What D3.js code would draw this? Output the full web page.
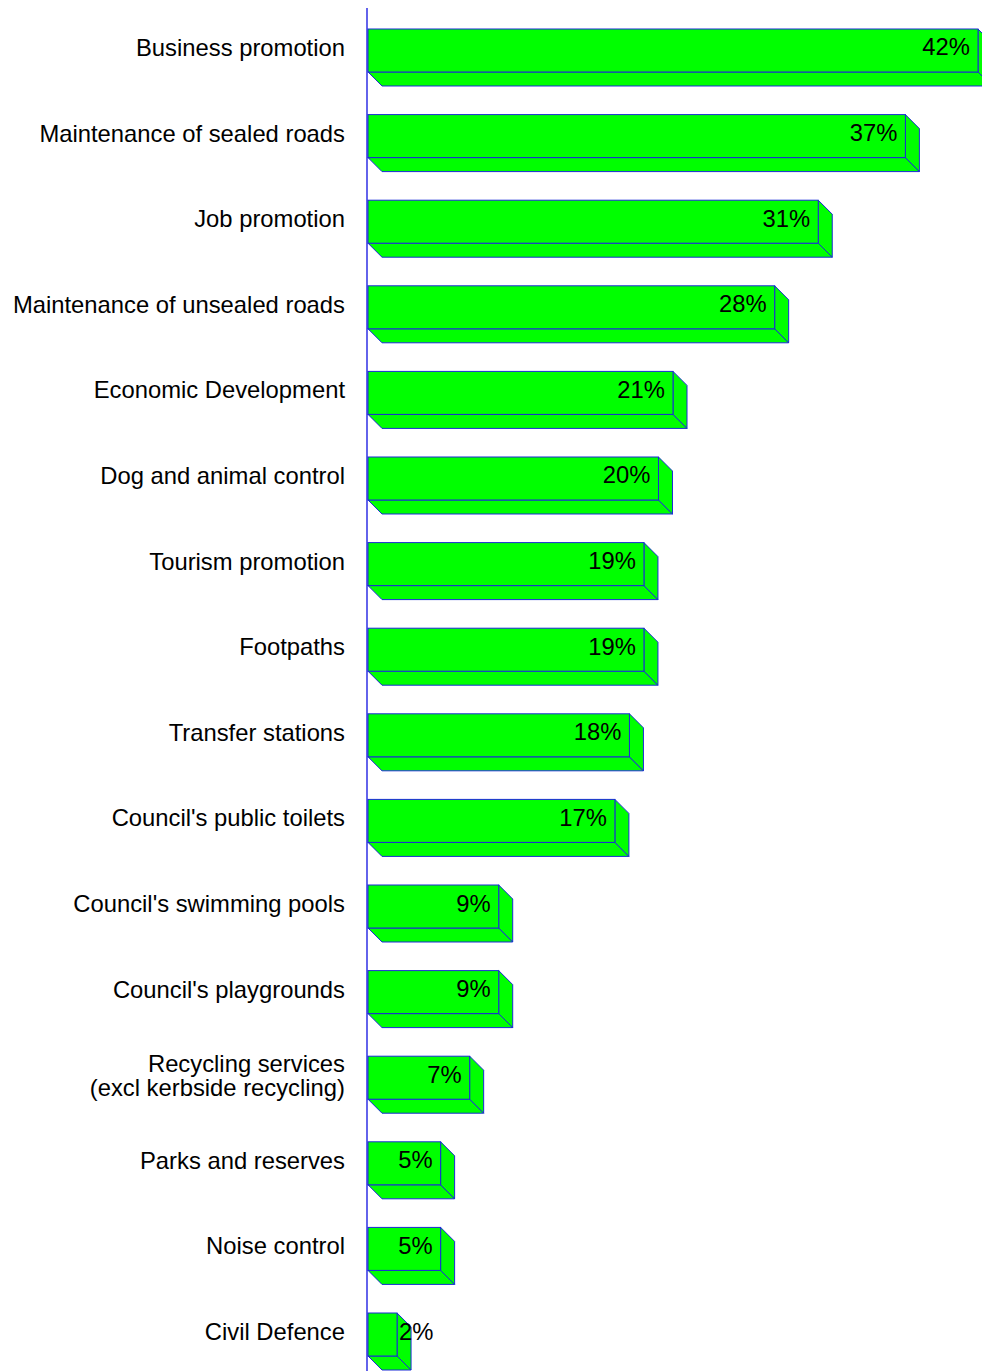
<!DOCTYPE html>
<html>
<head>
<meta charset="utf-8">
<script src="https://cdnjs.cloudflare.com/ajax/libs/d3/7.8.5/d3.min.js"></script>
<style>
  html, body { margin: 0; padding: 0; background: #fff; }
  svg { display: block; }
  text { font-family: "Liberation Sans", Arial, Helvetica, sans-serif; }
</style>
</head>
<body>
<div id="chart"></div>
<script>
// Share of respondents naming each council service
const categories = [
  "Business promotion",
  "Maintenance of sealed roads",
  "Job promotion",
  "Maintenance of unsealed roads",
  "Economic Development",
  "Dog and animal control",
  "Tourism promotion",
  "Footpaths",
  "Transfer stations",
  "Council's public toilets",
  "Council's swimming pools",
  "Council's playgrounds",
  "Recycling services\n(excl kerbside recycling)",
  "Parks and reserves",
  "Noise control",
  "Civil Defence"
];
const values = [42, 37, 31, 28, 21, 20, 19, 19, 18, 17, 9, 9, 7, 5, 5, 2];
const valueLabels = values.map(v => v + "%");

const W = 982, H = 1371;
const depth = 14;
const fill = "#00ff00";
const edge = "#1a2bd6";
const fontSize = 23.8;

const svg = d3.select("#chart").append("svg")
  .attr("width", W).attr("height", H);

const x = d3.scaleLinear().domain([0, 42]).range([368, 978]);
const y = d3.scaleBand().domain(categories)
  .range([29, 1356])
  .paddingInner(0.4977)
  .paddingOuter(0);

const data = categories.map((c, i) => ({ c, v: values[i], label: valueLabels[i] }));

const bars = svg.append("g").selectAll("g.bar").data(data).join("g").attr("class", "bar");

// bottom face
bars.append("path")
  .attr("fill", fill).attr("stroke", edge).attr("stroke-width", 1)
  .attr("stroke-linejoin", "round")
  .attr("d", d => {
    const x0 = x(0), x1 = x(d.v), yb = y(d.c) + y.bandwidth();
    return `M${x0},${yb}L${x1},${yb}L${x1 + depth},${yb + depth}L${x0 + depth},${yb + depth}Z`;
  });

// right side face
bars.append("path")
  .attr("fill", fill).attr("stroke", edge).attr("stroke-width", 1)
  .attr("stroke-linejoin", "round")
  .attr("d", d => {
    const x1 = x(d.v), yt = y(d.c), yb = yt + y.bandwidth();
    return `M${x1},${yt}L${x1 + depth},${yt + depth}L${x1 + depth},${yb + depth}L${x1},${yb}Z`;
  });

// front face
bars.append("rect")
  .attr("fill", fill).attr("stroke", edge).attr("stroke-width", 1)
  .attr("x", x(0))
  .attr("y", d => y(d.c))
  .attr("width", d => x(d.v) - x(0))
  .attr("height", y.bandwidth());

// value labels: inside the bar end, or just past it when the bar is too short
bars.append("text")
  .attr("font-size", fontSize)
  .attr("fill", "#000")
  .attr("dominant-baseline", "central")
  .attr("y", d => y(d.c) + y.bandwidth() / 2 - 3.5)
  .attr("x", d => (x(d.v) - x(0) > 50) ? x(d.v) - 8 : x(d.v) + 2)
  .attr("text-anchor", d => (x(d.v) - x(0) > 50) ? "end" : "start")
  .text(d => d.label);

// vertical category axis
const axis = svg.append("g")
  .attr("transform", `translate(${367},0)`)
  .call(d3.axisLeft(y).tickSize(0).tickFormat(""));
axis.select(".domain")
  .attr("d", `M0,8V${H}`)
  .attr("stroke", "#1010e0")
  .attr("stroke-width", 1.3);

// category labels (multi-line where needed)
const cat = svg.append("g").selectAll("text").data(data).join("text")
  .attr("font-size", fontSize)
  .attr("fill", "#000")
  .attr("text-anchor", "end")
  .attr("dominant-baseline", "central");
cat.each(function(d) {
  const lines = d.c.split("\n");
  const t = d3.select(this);
  const cy = y(d.c) + y.bandwidth() / 2;
  lines.forEach((ln, i) => {
    t.append("tspan")
      .attr("x", 345)
      .attr("y", lines.length === 1 ? cy - 3.5 : cy - 15 + i * 24)
      .text(ln);
  });
});
</script>
</body>
</html>
